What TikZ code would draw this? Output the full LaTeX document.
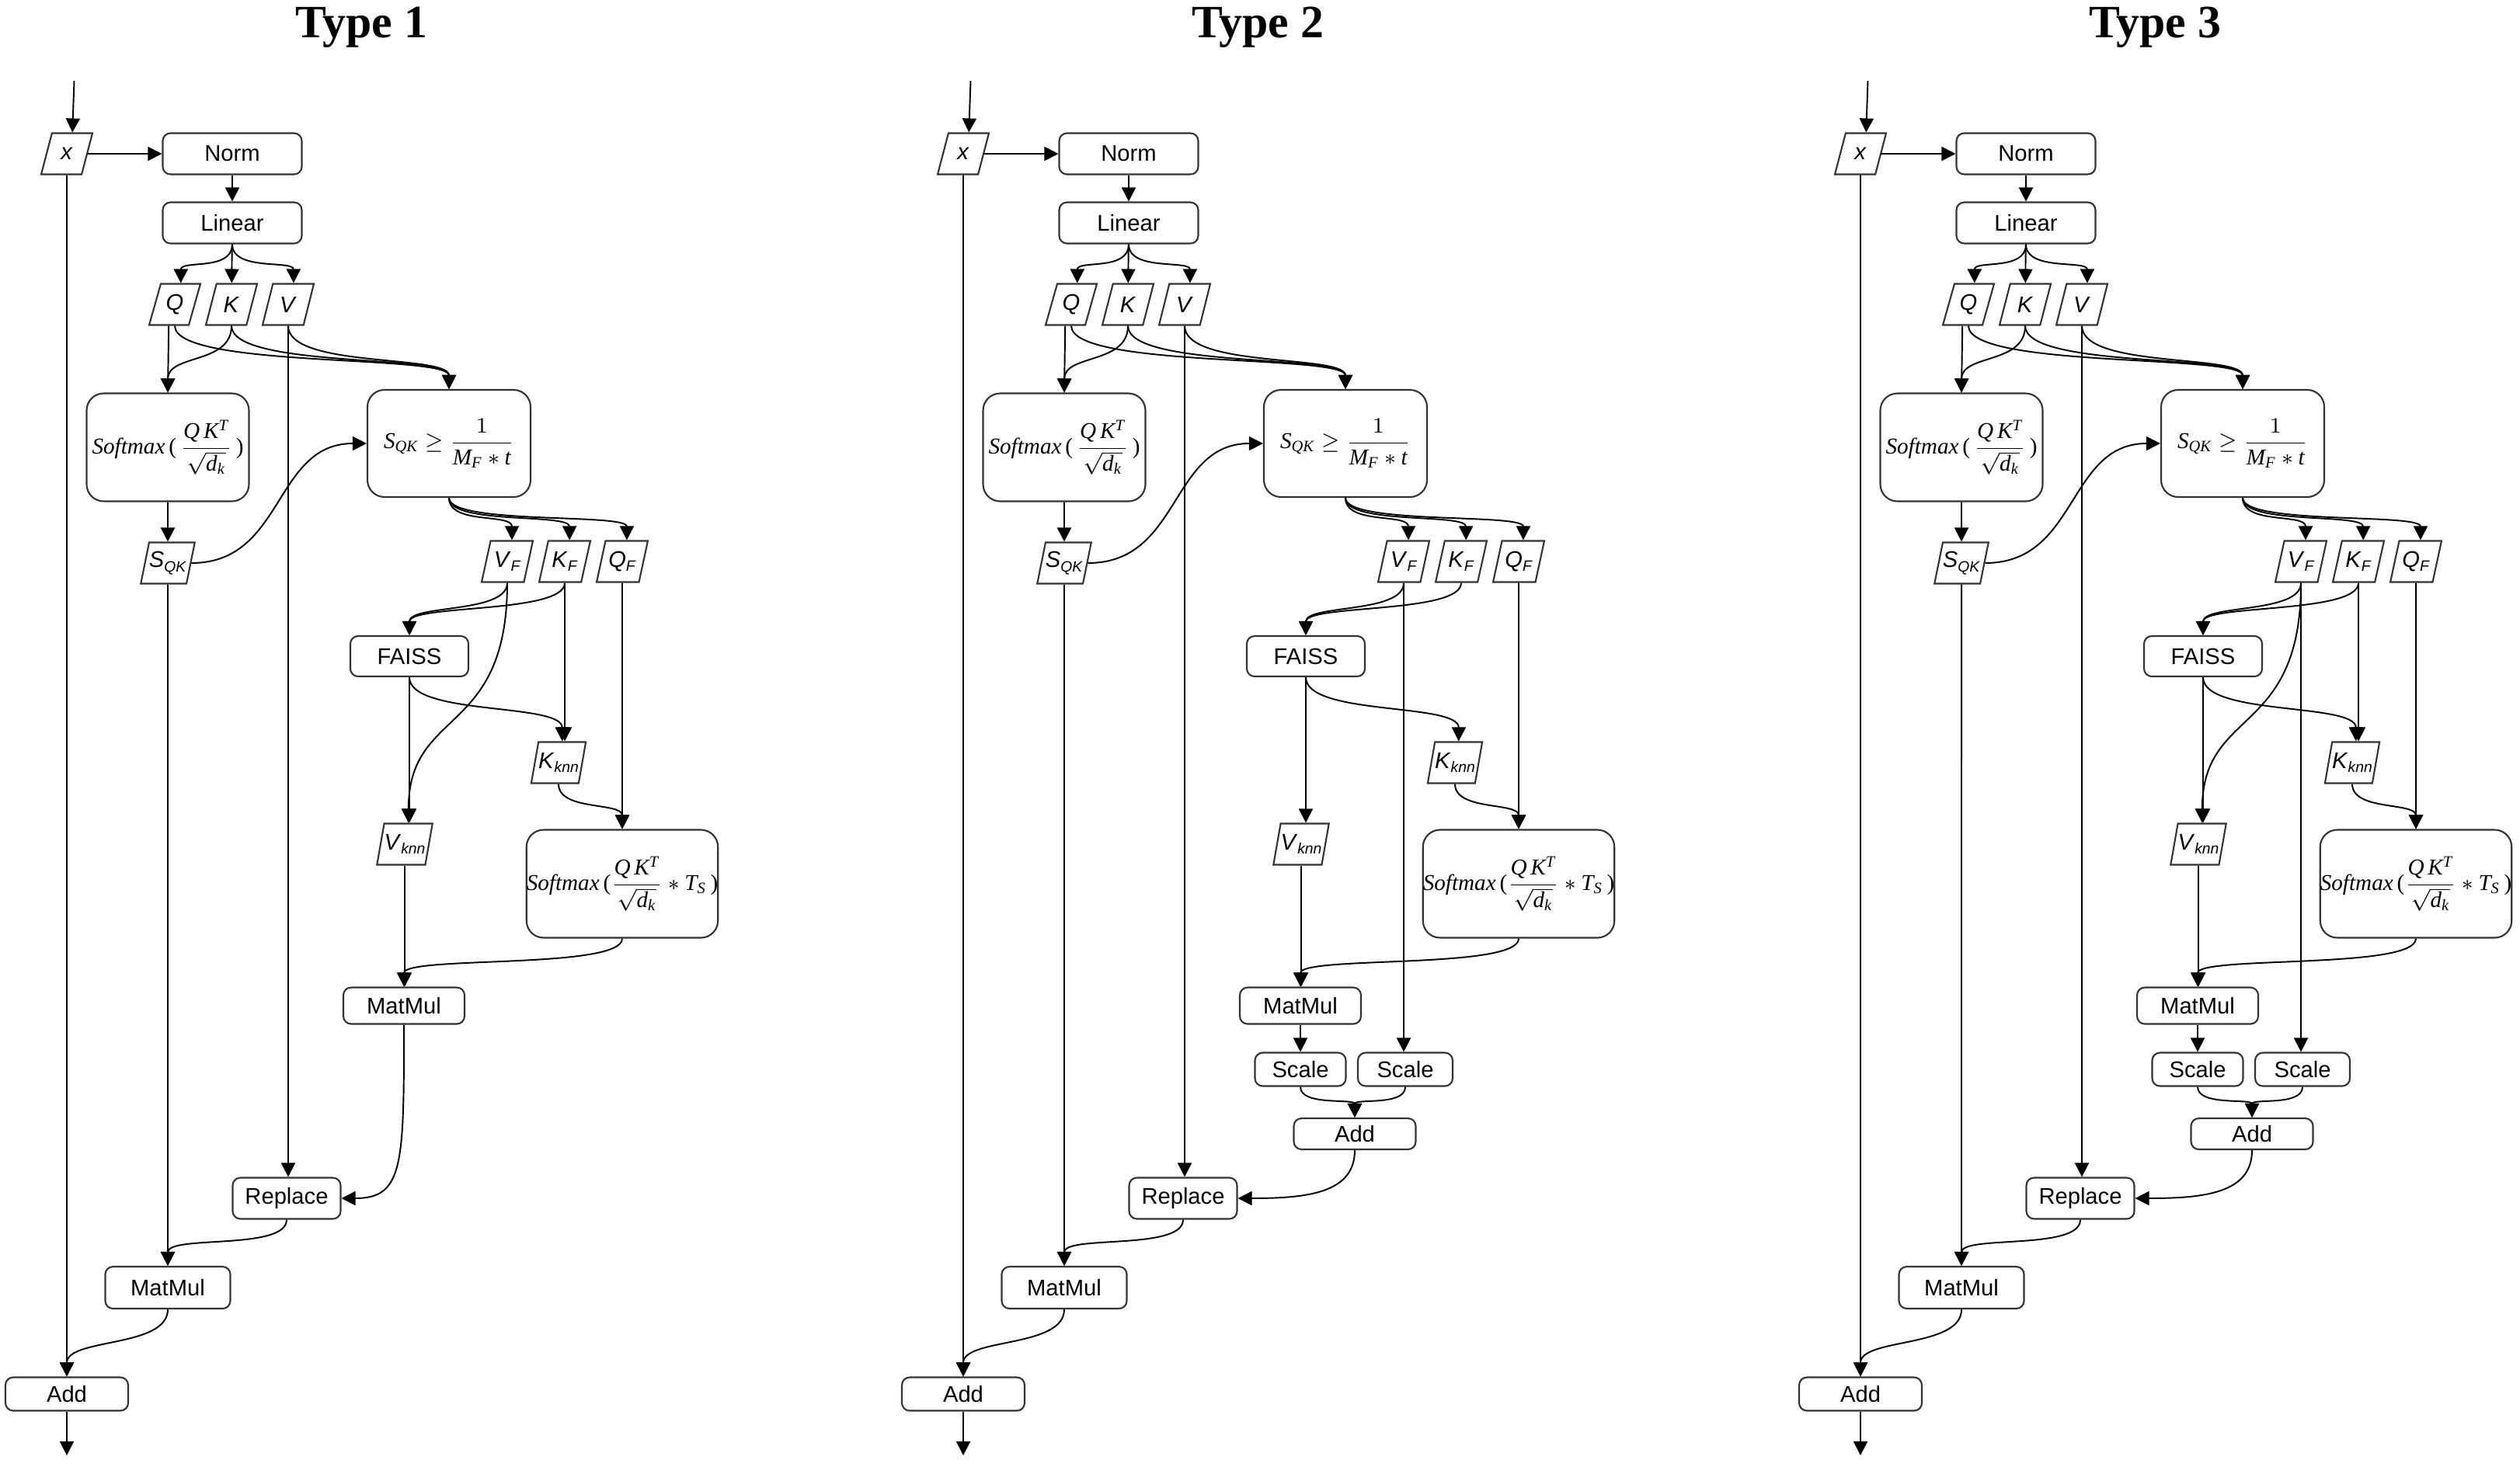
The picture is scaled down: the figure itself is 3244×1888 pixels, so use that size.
\documentclass[tikz,border=0pt]{standalone}
\usepackage{amsmath}
\usepackage{fontspec}
\setmainfont{Liberation Serif}
\setsansfont{Liberation Sans}
\usetikzlibrary{arrows.meta,shapes.geometric}
\tikzset{
  opbox/.style={draw=black!80, line width=0.6pt, rounded corners=1mm, align=center, inner sep=0pt, font=\sffamily\fontsize{8.3}{10}\selectfont},
  bigbox/.style={draw=black!80, line width=0.6pt, rounded corners=2.2mm, align=center, inner sep=0pt, minimum height=13.9mm, font=\fontsize{8.3}{10}\selectfont},
  datanode/.style={trapezium, trapezium left angle=70, trapezium right angle=110, trapezium stretches=true, draw=black!80, line width=0.6pt, minimum width=6.6mm, minimum height=5.3mm, inner sep=0pt, font=\sffamily\fontsize{8.3}{10}\selectfont},
  arrow/.style={-{Triangle[length=1.8mm,width=1.8mm]}, line width=0.55pt},
  heading/.style={font=\bfseries\fontsize{17}{20}\selectfont}
}
\newcommand{\subtxt}[1]{\raisebox{-0.35ex}{\fontsize{5.5}{6}\selectfont\textit{#1}}}
\newcommand{\typeflow}[1]{%
  \node[heading] (title) at (465,35) {#1};
  \coordinate (input) at (95.5,104);
  \node[datanode] (xin) at (86,198) {\textit{x}};
  \node[opbox, minimum width=17.9mm, minimum height=5.3mm] (norm) at (299,198) {Norm};
  \node[opbox, minimum width=17.9mm, minimum height=5.3mm] (linear) at (299,287) {Linear};
  \node[datanode] (q) at (225,392) {\textit{Q}};
  \node[datanode] (k) at (298,392) {\textit{K}};
  \node[datanode] (v) at (371,392) {\textit{V}};
  \node[bigbox, minimum width=20.9mm] (soft) at (216,576) {\textit{Softmax}\,(\,$\dfrac{\textit{Q\,K}^{\textit{T}}}{\sqrt{\textit{d}_{\textit{k}}}}$\,)};
  \node[bigbox, minimum width=21mm, minimum height=13.8mm] (thr) at (578,571) {\textit{S}$_{\textit{QK}}\geq\dfrac{1}{\textit{M}_{\textit{F}}*\textit{t}}$};
  \node[datanode] (sqk) at (216,725) {\textit{S}\subtxt{QK}};
  \node[datanode] (vf) at (653,723) {\textit{V}\subtxt{F}};
  \node[datanode] (kf) at (727,723) {\textit{K}\subtxt{F}};
  \node[datanode] (qf) at (801,723) {\textit{Q}\subtxt{F}};
  \node[opbox, minimum width=15.2mm, minimum height=5.2mm] (faiss) at (527,845) {FAISS};
  \node[datanode] (kknn) at (719,982) {\textit{K}\subtxt{knn}};
  \node[datanode] (vknn) at (521,1087) {\textit{V}\subtxt{knn}};
  \node[bigbox, minimum width=24.5mm] (softknn) at (801,1138) {\textit{Softmax}\,($\dfrac{\textit{Q\,K}^{\textit{T}}}{\sqrt{\textit{d}_{\textit{k}}}}*\textit{T}_{\textit{S}}$\,)};
  \node[opbox, minimum width=15.6mm, minimum height=4.7mm] (mmknn) at (520,1295) {MatMul};
  \node[opbox, minimum width=13.9mm, minimum height=5.3mm] (replace) at (369,1543) {Replace};
  \node[opbox, minimum width=16.1mm, minimum height=5.4mm] (mmout) at (216,1658) {MatMul};
  \node[opbox, minimum width=15.8mm, minimum height=4.3mm] (add) at (86,1795) {Add};
  \coordinate (output) at (86,1874);
  \draw[arrow] (input) -- (xin.top side);
  \draw[arrow] (xin.right side) -- (norm.west);
  \draw[arrow] (norm) -- (linear);
  \draw[arrow] (linear.south) .. controls +(0,35) and +(0,-30) .. (q.top side);
  \draw[arrow] (linear) -- (k);
  \draw[arrow] (linear.south) .. controls +(0,35) and +(0,-30) .. (v.top side);
  \foreach \n in {q,k,v}
    \draw[arrow] (\n.south) .. controls +(0,55) and +(0,-45) .. (thr.north);
  \draw[arrow] (q.bottom side) -- (soft.north);
  \draw[arrow] (k.south) .. controls +(0,50) and +(0,-50) .. (soft.north);
  \draw[arrow] (soft) -- (sqk);
  \draw[arrow] (sqk.right side) .. controls +(120,0) and +(-120,0) .. (thr.west);
  \draw[arrow] (sqk) -- (mmout);
  \draw[arrow] (v.south) -- (v.south |- replace.north);
  \draw[arrow] (xin.south) -- (add.north);
  \foreach \n in {vf,kf,qf}
    \draw[arrow] (thr.south) .. controls +(0,35) and +(0,-35) .. (\n.top side);
  \foreach \n in {vf,kf}
    \draw[arrow] (\n.south) .. controls +(0,40) and +(0,-40) .. (faiss.north);
  \draw[arrow] (faiss.south) -- (faiss.south |- vknn.north);
  \draw[arrow] (faiss.south) .. controls +(0,50) and +(0,-50) .. (kknn.top side);
  \draw[arrow] (kknn.south) .. controls +(0,35) and +(0,-35) .. (softknn.north);
  \draw[arrow] (qf) -- (softknn);
  \draw[arrow] (vknn.south) -- (vknn.south |- mmknn.north);
  \draw[arrow] (softknn.south) .. controls +(0,40) and +(0,-40) .. (mmknn.north);
  \draw[arrow] (replace.south) .. controls +(0,40) and +(0,-40) .. (mmout.north);
  \draw[arrow] (mmout.south) .. controls +(0,50) and +(0,-50) .. (add.north);
  \draw[arrow] (add) -- (output);
}
\newcommand{\scaleflow}{%
  \node[opbox, minimum width=11.7mm, minimum height=4.3mm] (scaleknn) at (520,1377) {Scale};
  \node[opbox, minimum width=12.2mm, minimum height=4.3mm] (scalef) at (655,1377) {Scale};
  \node[opbox, minimum width=15.7mm, minimum height=4mm] (addscale) at (590,1460) {Add};
  \draw[arrow] (mmknn) -- (scaleknn);
  \draw[arrow] (vf.south) -- (vf.south |- scalef.north);
  \draw[arrow] (scaleknn.south) .. controls +(0,25) and +(0,-25) .. (addscale.north);
  \draw[arrow] (scalef.south) .. controls +(0,25) and +(0,-25) .. (addscale.north);
  \draw[arrow] (addscale.south) .. controls +(0,55) and +(90,0) .. (replace.east);
}
\begin{document}
\begin{tikzpicture}[x=0.1mm, y=-0.1mm]
\useasboundingbox (0,0) rectangle (3244,1888);
\begin{scope}[name prefix=ta-]
  \typeflow{Type 1}
  \draw[arrow] (vf.south) .. controls +(0,200) and +(0,-150) .. (vknn.top side);
  \draw[arrow] (kf.south) -- (kf.south |- kknn.north);
  \draw[arrow] (mmknn.south) .. controls +(0,180) and +(80,0) .. (replace.east);
\end{scope}
\begin{scope}[shift={(1154,0)}, name prefix=tb-]
  \typeflow{Type 2}
  \scaleflow
\end{scope}
\begin{scope}[shift={(2309,0)}, name prefix=tc-]
  \typeflow{Type 3}
  \scaleflow
  \draw[arrow] (vf.south) .. controls +(0,200) and +(0,-150) .. (vknn.top side);
  \draw[arrow] (kf.south) -- (kf.south |- kknn.north);
\end{scope}
\end{tikzpicture}
\end{document}
